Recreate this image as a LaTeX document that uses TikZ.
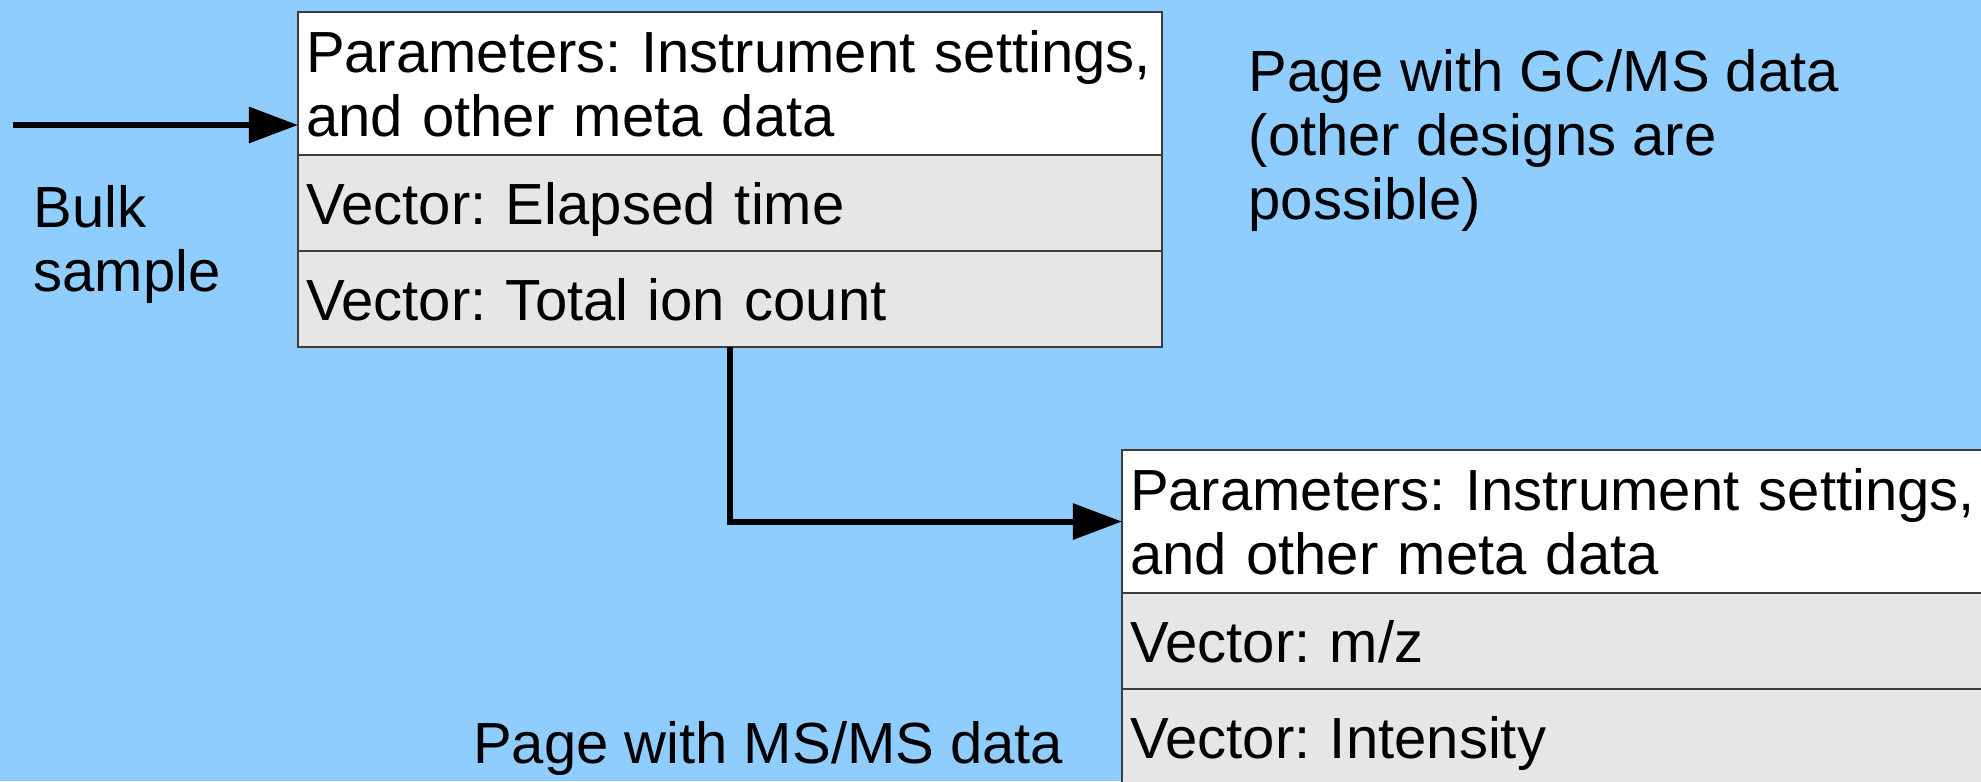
\documentclass[tikz,border=0pt]{standalone}
\usepackage{fontspec}
\setmainfont{Liberation Sans}
\usepackage{tikz}
\usetikzlibrary{positioning,arrows.meta}
\frenchspacing

\definecolor{pagebg}{HTML}{8FCDFF}
\definecolor{rowgray}{HTML}{E6E6E6}
\definecolor{boxline}{HTML}{3C3C3C}

\tikzstyle{param} = [rectangle, draw=boxline, line width=0.015cm, fill=white, minimum width=8.635cm, text width=8.475cm, minimum height=1.43cm, align=left, inner xsep=0.08cm, inner ysep=0pt, outer sep=0pt, font=\fontsize{16.5pt}{18.2pt}\selectfont]
\tikzstyle{vec} = [param, fill=rowgray, minimum height=0.96cm, text depth=0pt]
\tikzstyle{note} = [align=left, inner sep=0pt, anchor=north west, font=\fontsize{16.5pt}{18.2pt}\selectfont]
\tikzstyle{arrow} = [line width=0.06cm, -{Triangle[length=0.49cm,width=0.35cm]}]

\begin{document}
\begin{tikzpicture}[x=0.01cm, y=-0.01cm]
\path[use as bounding box, fill=pagebg] (0,0) rectangle (1981,781);
\clip (0,0) rectangle (1981,781);

% GC/MS page
\node (gcpar) [param, anchor=north west] at (298,12) {Parameters: Instrument settings,\\and other meta data};
\node (gctime) [vec, below=0pt of gcpar] {Vector: Elapsed time};
\node (gctic) [vec, below=0pt of gctime] {Vector: Total ion count};

% MS/MS page
\node (mspar) [param, anchor=north west] at (1122,450) {Parameters: Instrument settings,\\and other meta data};
\node (msmz) [vec, below=0pt of mspar] {Vector: m/z};
\node (msint) [vec, below=0pt of msmz] {Vector: Intensity};

\node (bulk) [note] at (33,185) {Bulk\\sample};
\node (gcnote) [note] at (1248,49) {Page with GC/MS data\\(other designs are\\possible)};
\node (msnote) [note, anchor=north east] at (1064,721) {Page with MS/MS data};

\coordinate (input) at (13,125);
\draw [arrow] (input) -- (input -| gcpar.west);
\draw [arrow] (gctic.south) |- (mspar.west);
\end{tikzpicture}
\end{document}
